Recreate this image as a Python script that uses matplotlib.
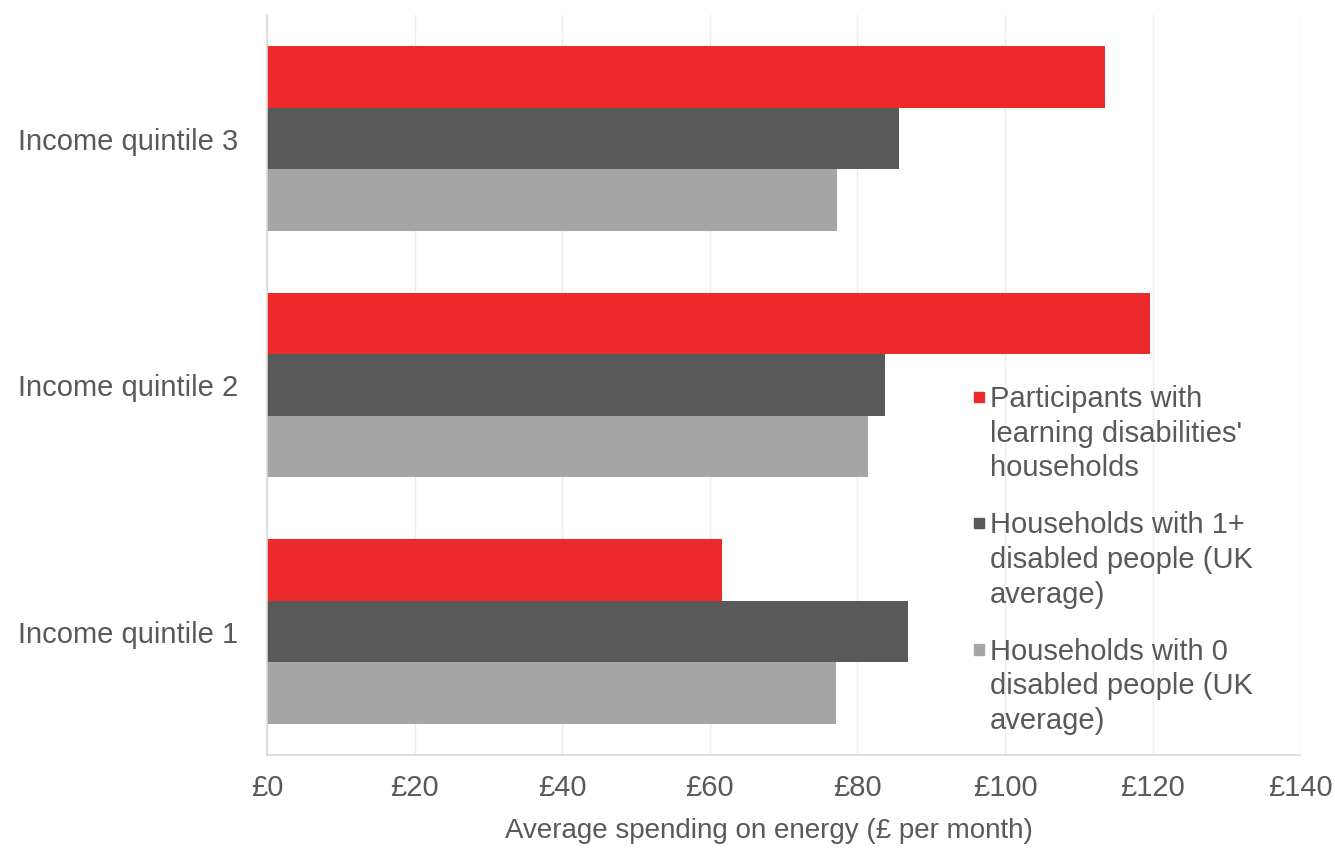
import numpy as np
import matplotlib
matplotlib.use("Agg")
import matplotlib.pyplot as plt
from matplotlib.patches import Rectangle
from matplotlib.legend_handler import HandlerPatch

# --- data ---
quintiles = ["Income quintile 1", "Income quintile 2", "Income quintile 3"]
series_names = [
    "Participants with\nlearning disabilities'\nhouseholds",
    "Households with 1+\ndisabled people (UK\naverage)",
    "Households with 0\ndisabled people (UK\naverage)",
]
ld_households = [61.7, 119.6, 113.5]
disabled_1plus = [86.8, 83.7, 85.6]
disabled_0 = [77.1, 81.4, 77.2]
xticks = [0, 20, 40, 60, 80, 100, 120, 140]
xtick_labels = ["£0", "£20", "£40", "£60", "£80", "£100", "£120", "£140"]

colors = ["#EC2A2B", "#595959", "#A5A5A5"]
text_color = "#595959"
fs = 21

plt.rcParams["font.family"] = ["Liberation Sans", "DejaVu Sans"]

fig = plt.figure(figsize=(13.35, 8.49), dpi=100)
ax = fig.add_axes([0.2, 0.111, 0.774, 0.871])

y = np.arange(len(quintiles))
h = 0.25
series = [ld_households, disabled_1plus, disabled_0]
for i, (vals, c) in enumerate(zip(series, colors)):
    ax.barh(y + h * (1 - i), vals, height=h, color=c, zorder=2)

ax.set_xlim(0, 140)
ax.set_ylim(-0.5, 2.5)
ax.set_xticks(xticks)
ax.set_xticklabels(xtick_labels)
ax.set_yticks(y)
ax.set_yticklabels(quintiles)
ax.tick_params(axis="both", length=0, labelsize=fs, colors=text_color)
ax.tick_params(axis="y", pad=21)
ax.tick_params(axis="x", pad=14)
ax.xaxis.grid(True, color="#EBEBEB", lw=1, zorder=0)

for s in ["top", "right"]:
    ax.spines[s].set_visible(False)
for s in ["left", "bottom"]:
    ax.spines[s].set_color("#D9D9D9")
    ax.spines[s].set_linewidth(1.2)

ax.set_xlabel("Average spending on energy (£ per month)", fontsize=20,
              color=text_color)
ax.xaxis.set_label_coords(0.486, -0.085)

line_sp = 1.3


# square legend marker aligned with the first line of a wrapped label
def top_square(legend, orig_handle, xdescent, ydescent, width, height, fontsize):
    size = 7.5
    step = line_sp * 0.9 * fontsize + 2.5
    return Rectangle((-xdescent + 4, -ydescent + height / 2 - size / 2 + step),
                     size, size)


proxies = [Rectangle((0, 0), 1, 1, color=c) for c in colors]
leg = ax.legend(
    proxies, series_names,
    loc="upper left",
    bbox_to_anchor=(968 / 1335, 1 - 385 / 849),
    bbox_transform=fig.transFigure,
    frameon=False,
    fontsize=fs,
    handlelength=0.45,
    handletextpad=0.3,
    labelspacing=1.0,
    borderpad=0,
    borderaxespad=0,
    handler_map={Rectangle: HandlerPatch(patch_func=top_square)},
)
for t in leg.get_texts():
    t.set_color(text_color)
    t.set_linespacing(line_sp)

fig.savefig("out.png", dpi=100)
